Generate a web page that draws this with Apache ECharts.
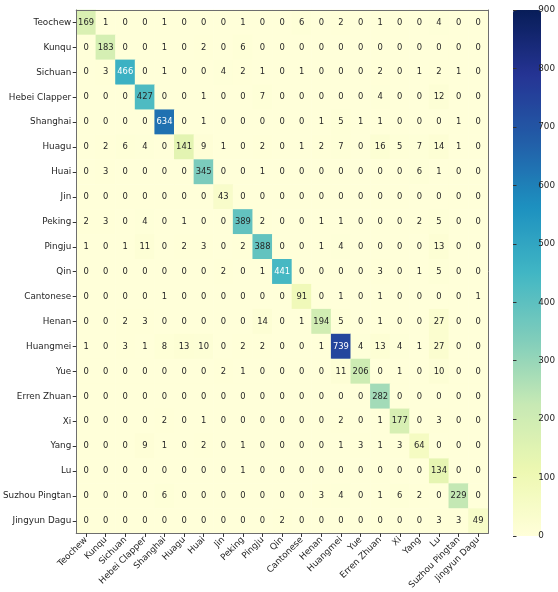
<!DOCTYPE html>
<html>
<head>
<meta charset="utf-8">
<script src="https://cdn.jsdelivr.net/npm/echarts@6/dist/echarts.min.js"></script>
<style>
  html, body { margin: 0; padding: 0; background: #fff; }
  #cm { width: 558px; height: 592px; }
</style>
</head>
<body>
<div id="cm"></div>
<script>
// confusion matrix of opera genres
const genres = ['Teochew', 'Kunqu', 'Sichuan', 'Hebei Clapper', 'Shanghai', 'Huagu', 'Huai', 'Jin',
  'Peking', 'Pingju', 'Qin', 'Cantonese', 'Henan', 'Huangmei', 'Yue', 'Erren Zhuan', 'Xi', 'Yang',
  'Lu', 'Suzhou Pingtan', 'Jingyun Dagu'];

const rowTeochew   = [169, 1, 0, 0, 1, 0, 0, 0, 1, 0, 0, 6, 0, 2, 0, 1, 0, 0, 4, 0, 0];
const rowKunqu     = [0, 183, 0, 0, 1, 0, 2, 0, 6, 0, 0, 0, 0, 0, 0, 0, 0, 0, 0, 0, 0];
const rowSichuan   = [0, 3, 466, 0, 1, 0, 0, 4, 2, 1, 0, 1, 0, 0, 0, 2, 0, 1, 2, 1, 0];
const rowHebei     = [0, 0, 0, 427, 0, 0, 1, 0, 0, 7, 0, 0, 0, 0, 0, 4, 0, 0, 12, 0, 0];
const rowShanghai  = [0, 0, 0, 0, 634, 0, 1, 0, 0, 0, 0, 0, 1, 5, 1, 1, 0, 0, 0, 1, 0];
const rowHuagu     = [0, 2, 6, 4, 0, 141, 9, 1, 0, 2, 0, 1, 2, 7, 0, 16, 5, 7, 14, 1, 0];
const rowHuai      = [0, 3, 0, 0, 0, 0, 345, 0, 0, 1, 0, 0, 0, 0, 0, 0, 0, 6, 1, 0, 0];
const rowJin       = [0, 0, 0, 0, 0, 0, 0, 43, 0, 0, 0, 0, 0, 0, 0, 0, 0, 0, 0, 0, 0];
const rowPeking    = [2, 3, 0, 4, 0, 1, 0, 0, 389, 2, 0, 0, 1, 1, 0, 0, 0, 2, 5, 0, 0];
const rowPingju    = [1, 0, 1, 11, 0, 2, 3, 0, 2, 388, 0, 0, 1, 4, 0, 0, 0, 0, 13, 0, 0];
const rowQin       = [0, 0, 0, 0, 0, 0, 0, 2, 0, 1, 441, 0, 0, 0, 0, 3, 0, 1, 5, 0, 0];
const rowCantonese = [0, 0, 0, 0, 1, 0, 0, 0, 0, 0, 0, 91, 0, 1, 0, 1, 0, 0, 0, 0, 1];
const rowHenan     = [0, 0, 2, 3, 0, 0, 0, 0, 0, 14, 0, 1, 194, 5, 0, 1, 0, 0, 27, 0, 0];
const rowHuangmei  = [1, 0, 3, 1, 8, 13, 10, 0, 2, 2, 0, 0, 1, 739, 4, 13, 4, 1, 27, 0, 0];
const rowYue       = [0, 0, 0, 0, 0, 0, 0, 2, 1, 0, 0, 0, 0, 11, 206, 0, 1, 0, 10, 0, 0];
const rowErren     = [0, 0, 0, 0, 0, 0, 0, 0, 0, 0, 0, 0, 0, 0, 0, 282, 0, 0, 0, 0, 0];
const rowXi        = [0, 0, 0, 0, 2, 0, 1, 0, 0, 0, 0, 0, 0, 2, 0, 1, 177, 0, 3, 0, 0];
const rowYang      = [0, 0, 0, 9, 1, 0, 2, 0, 1, 0, 0, 0, 0, 1, 3, 1, 3, 64, 0, 0, 0];
const rowLu        = [0, 0, 0, 0, 0, 0, 0, 0, 1, 0, 0, 0, 0, 0, 0, 0, 0, 0, 134, 0, 0];
const rowSuzhou    = [0, 0, 0, 0, 6, 0, 0, 0, 0, 0, 0, 0, 3, 4, 0, 1, 6, 2, 0, 229, 0];
const rowJingyun   = [0, 0, 0, 0, 0, 0, 0, 0, 0, 0, 2, 0, 0, 0, 0, 0, 0, 0, 3, 3, 49];

const colorTicks = [0, 900];

(function() {
  const rows = [rowTeochew, rowKunqu, rowSichuan, rowHebei, rowShanghai, rowHuagu, rowHuai, rowJin,
    rowPeking, rowPingju, rowQin, rowCantonese, rowHenan, rowHuangmei, rowYue, rowErren, rowXi,
    rowYang, rowLu, rowSuzhou, rowJingyun];

  const cells = [];
  rows.forEach((row, r) => {
    row.forEach((v, c) => {
      cells.push({
        value: [c, r, v],
        label: { color: v > 435 ? '#ffffff' : '#262626' }
      });
    });
  });

  const font = 'DejaVu Sans';
  const frame = { show: true, lineStyle: { color: '#6e6e6e', width: 1 } };

  const option = {
    animation: false,
    backgroundColor: '#ffffff',
    grid: [
      { left: 75, top: 10, width: 413, height: 525 },
      { left: 513, top: 10, width: 28, height: 526 }
    ],
    xAxis: [
      {
        type: 'category',
        data: genres,
        gridIndex: 0,
        position: 'bottom',
        z: 5,
        axisLine: frame,
        axisTick: { show: true, alignWithLabel: true, length: 3.5, lineStyle: { color: '#333' } },
        axisLabel: {
          interval: 0,
          rotate: 45,
          margin: 5,
          fontSize: 8.8,
          fontFamily: font,
          color: '#262626'
        },
        splitLine: { show: false }
      },
      {
        type: 'category',
        data: genres,
        gridIndex: 0,
        position: 'top',
        z: 5,
        axisLine: frame,
        axisTick: { show: false },
        axisLabel: { show: false }
      },
      {
        type: 'value',
        gridIndex: 1,
        show: false
      }
    ],
    yAxis: [
      {
        type: 'category',
        data: genres,
        gridIndex: 0,
        inverse: true,
        position: 'left',
        z: 5,
        axisLine: frame,
        axisTick: { show: true, alignWithLabel: true, length: 3.5, lineStyle: { color: '#333' } },
        axisLabel: {
          interval: 0,
          margin: 5,
          fontSize: 8.8,
          fontFamily: font,
          color: '#262626'
        }
      },
      {
        type: 'category',
        data: genres,
        gridIndex: 0,
        inverse: true,
        position: 'right',
        z: 5,
        axisLine: frame,
        axisTick: { show: false },
        axisLabel: { show: false }
      },
      {
        type: 'value',
        gridIndex: 1,
        position: 'right',
        min: colorTicks[0],
        max: colorTicks[1],
        interval: 100,
        z: 5,
        axisLine: { show: false },
        axisTick: { show: true, length: 3.5, lineStyle: { color: '#333' } },
        axisLabel: { fontSize: 8.8, fontFamily: font, color: '#262626', margin: 4 },
        splitLine: { show: false }
      }
    ],
    visualMap: {
      type: 'continuous',
      min: colorTicks[0],
      max: colorTicks[1],
      calculable: false,
      seriesIndex: 0,
      left: 513,
      top: 10,
      padding: 0,
      itemWidth: 28,
      itemHeight: 526,
      inRange: {
        color: ['#ffffd9', '#edf8b1', '#c7e9b4', '#7fcdbb', '#41b6c4', '#1d91c0', '#225ea8', '#253494', '#081d58']
      }
    },
    series: [
      {
        type: 'heatmap',
        xAxisIndex: 0,
        yAxisIndex: 0,
        data: cells,
        label: {
          show: true,
          fontSize: 8.4,
          fontFamily: font,
          formatter: (p) => p.value[2]
        },
        itemStyle: { borderWidth: 0 },
        emphasis: { disabled: true }
      }
    ]
  };

  const chart = echarts.init(document.getElementById('cm'));
  chart.setOption(option);
  window.addEventListener('resize', () => chart.resize());
})();
</script>
</body>
</html>
